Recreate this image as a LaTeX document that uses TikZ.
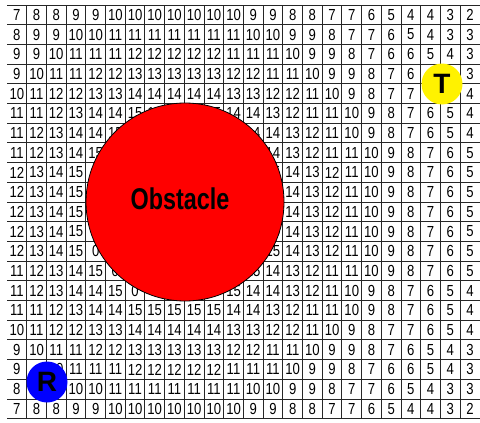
\documentclass[tikz,border=0pt]{standalone}
\usepackage{fontspec}
\setmainfont{Liberation Sans}
\usepackage{graphicx}
\usepackage{tikz}
\usetikzlibrary{positioning}

\newcommand{\narrow}[2][0.82]{\scalebox{#1}[1]{#2}}
\def\celavuota{x}

\begin{document}
\begin{tikzpicture}[
    x=1pt, y=-1pt,
    cell/.style={inner sep=0pt, font=\fontsize{16}{16}\selectfont},
    gridline/.style={line width=1pt, black!85},
    obstacle/.style={
        circle, fill=red, draw=black, line width=0.8pt,
        minimum size=198pt, inner sep=0pt
    },
    marker/.style={
        circle, minimum size=41pt, inner sep=0pt,
        font=\fontsize{28}{28}\selectfont\bfseries
    },
]
\useasboundingbox (0,0) rectangle (480,423);

% Valori delle celle (x = coperta)
\foreach \row [count=\r from 0] in {
    {7,8,8,9,9,10,10,10,10,10,10,10,9,9,8,8,7,7,6,5,4,4,3,2},
    {8,9,9,10,10,11,11,11,11,11,11,11,10,10,9,9,8,7,7,6,5,4,3,3},
    {9,9,10,11,11,11,12,12,12,12,12,11,11,11,10,9,9,8,7,6,6,5,4,3},
    {9,10,11,11,12,12,13,13,13,13,13,12,12,11,11,10,9,9,8,7,6,x,x,3},
    {10,11,12,12,13,13,14,14,14,14,14,13,13,12,12,11,10,9,8,7,7,x,x,4},
    {11,11,12,13,14,14,15,15,15,15,15,14,14,13,12,11,11,10,9,8,7,6,5,4},
    {11,12,13,14,14,15,x,x,x,x,x,15,14,14,13,12,11,10,9,8,7,6,5,4},
    {11,12,13,14,15,x,x,x,x,x,x,x,15,14,13,12,11,11,10,9,8,7,6,5},
    {12,13,14,15,x,x,x,x,x,x,x,x,x,15,14,13,12,11,10,9,8,7,6,5},
    {12,13,14,15,x,x,x,x,x,x,x,x,x,15,14,13,12,11,10,9,8,7,6,5},
    {12,13,14,15,x,x,x,x,x,x,x,x,x,15,14,13,12,11,10,9,8,7,6,5},
    {12,13,14,15,x,x,x,x,x,x,x,x,x,15,14,13,12,11,10,9,8,7,6,5},
    {12,13,14,15,0,x,x,x,x,x,x,x,x,15,14,13,12,11,10,9,8,7,6,5},
    {11,12,13,14,15,0,x,x,x,x,x,x,15,14,13,12,11,11,10,9,8,7,6,5},
    {11,12,13,14,14,15,0,x,x,x,x,15,14,14,13,12,11,10,9,8,7,6,5,4},
    {11,11,12,13,14,14,15,15,15,15,15,14,14,13,12,11,11,10,9,8,7,6,5,4},
    {10,11,12,12,13,13,14,14,14,14,14,13,13,12,12,11,10,9,8,7,7,6,5,4},
    {9,10,11,11,12,12,13,13,13,13,13,12,12,11,11,10,9,9,8,7,6,5,4,3},
    {9,x,10,11,11,11,12,12,12,12,12,11,11,11,10,9,9,8,7,6,6,5,4,3},
    {8,x,x,10,10,11,11,11,11,11,11,11,10,10,9,9,8,7,7,6,5,4,3,3},
    {7,8,8,9,9,10,10,10,10,10,10,10,9,9,8,8,7,7,6,5,4,4,3,2}%
}{
    \foreach \v [count=\c from 0] in \row {
        \ifx\v\celavuota\else
        \node[cell] (cell-\r-\c) at ({7+19.7*(\c+0.5)}, {5+19.7*(\r+0.5)})
            {\narrow{\v}};
        \fi
    }
}

% Griglia
\foreach \k in {0,...,21}
    \draw[gridline] (7, {5+19.7*\k}) -- (480, {5+19.7*\k});
\foreach \k in {1,...,23}
    \draw[gridline] ({7+19.7*\k}, 5) -- ({7+19.7*\k}, 418.7);

% Ostacolo, target, robot
\node[obstacle] (ostacolo) at (185,202) {};
\node[font=\fontsize{30}{30}\selectfont\bfseries, inner sep=0pt]
    (etichetta) at ([xshift=-5pt, yshift=3pt]ostacolo.center)
    {\narrow[0.78]{Obstacle}};
\node[marker, fill=yellow] (target) at (442,84) {T};
\node[marker, fill=blue]   (robot)  at (47,382) {R};

\end{tikzpicture}
\end{document}
